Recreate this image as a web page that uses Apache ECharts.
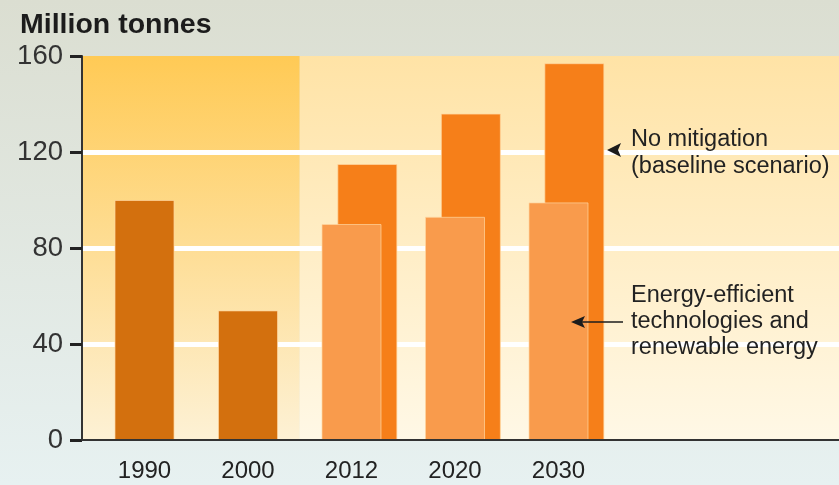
<!DOCTYPE html>
<html>
<head>
<meta charset="utf-8">
<script src="https://cdn.jsdelivr.net/npm/echarts@6/dist/echarts.min.js"></script>
<style>
  html, body { margin: 0; padding: 0; }
  #chart { width: 839px; height: 485px; }
</style>
</head>
<body>
<div id="chart"></div>
<script>
// Emissions, million tonnes
const years = ['1990', '2000', '2012', '2020', '2030'];
const historical = [100, 54, null, null, null];
const baseline = [null, null, 115, 136, 157];
const efficient = [null, null, 90, 93, 99];
const yTicks = [0, 40, 80, 120, 160];

const FONT = '"Liberation Sans", Arial, Helvetica, sans-serif';

// horizontal extent of the plot, in category units (category i sits at value i)
const XMIN = -0.604;
const XMAX = 6.71;
const BACK_SHIFT = 0.153;      // baseline bars sit a little to the right, behind
const SPLIT = 1.5;             // boundary between recorded years and projections

const pairs = arr => arr.map((v, i) => [i, v]);

function vGrad(top, bottom) {
  return {
    type: 'linear', x: 0, y: 0, x2: 0, y2: 1,
    colorStops: [{ offset: 0, color: top }, { offset: 1, color: bottom }]
  };
}

const chart = echarts.init(document.getElementById('chart'), null, { renderer: 'canvas' });

chart.setOption({
  animation: false,
  backgroundColor: vGrad('#DBDED1', '#E7F1F1'),
  textStyle: { fontFamily: FONT },
  title: {
    text: 'Million tonnes',
    left: 15, top: 6,
    textStyle: { fontFamily: FONT, fontSize: 28.5, fontWeight: 'bold', color: '#1c1c1c' }
  },
  grid: { left: 82, right: 0, top: 56, bottom: 45, containLabel: false },
  xAxis: [
    {
      type: 'value', min: XMIN, max: XMAX, z: 3,
      axisLine: { show: true, onZero: false, lineStyle: { color: '#333', width: 2 } },
      axisTick: { show: false },
      splitLine: { show: false },
      axisLabel: {
        customValues: years.map((_, i) => i),
        formatter: v => years[Math.round(v)],
        fontSize: 24, color: '#222', margin: 19, fontFamily: FONT
      }
    },
    {
      type: 'value', min: XMIN - BACK_SHIFT, max: XMAX - BACK_SHIFT, show: false
    }
  ],
  yAxis: {
    type: 'value', min: yTicks[0], max: yTicks[yTicks.length - 1], interval: 40, z: 1.5,
    axisLine: { show: true, onZero: false, lineStyle: { color: '#333', width: 2 } },
    axisTick: { show: true, length: 12, lineStyle: { color: '#222', width: 3 } },
    axisLabel: { fontSize: 27.5, color: '#333', margin: 19, fontFamily: FONT },
    splitLine: { show: true, showMinLine: false, showMaxLine: false, lineStyle: { color: '#ffffff', width: 5 } }
  },
  series: [
    {
      name: 'No mitigation (baseline scenario)',
      type: 'bar', xAxisIndex: 1, barWidth: 60,
      data: pairs(baseline),
      itemStyle: { color: '#F67F19', borderColor: 'rgba(255,214,160,0.7)', borderWidth: 1 }
    },
    {
      name: 'Recorded',
      type: 'bar', xAxisIndex: 0, barWidth: 60, barGap: '-100%',
      data: pairs(historical),
      itemStyle: { color: '#D3700E', borderColor: 'rgba(255,214,160,0.7)', borderWidth: 1 },
      markArea: {
        silent: true,
        z: 1,
        data: [
          [
            { xAxis: XMIN, yAxis: yTicks[yTicks.length - 1], itemStyle: { color: vGrad('#FFCA55', '#FDF1D5') } },
            { xAxis: SPLIT, yAxis: 0 }
          ],
          [
            { xAxis: SPLIT, yAxis: yTicks[yTicks.length - 1], itemStyle: { color: vGrad('#FFE3A6', '#FFF8E6') } },
            { xAxis: XMAX, yAxis: 0 }
          ]
        ]
      }
    },
    {
      name: 'Energy-efficient technologies and renewable energy',
      type: 'bar', xAxisIndex: 0, barWidth: 60, barGap: '-100%',
      data: pairs(efficient),
      itemStyle: { color: '#F99B4C', borderColor: 'rgba(255,214,160,0.7)', borderWidth: 1 }
    }
  ],
  graphic: [
    {
      type: 'polygon', z: 10,
      shape: { points: [[607, 150], [621, 143], [618, 150], [621, 157]] },
      style: { fill: '#1c1c1c' }
    },
    {
      type: 'text', left: 631, top: 126, z: 10,
      style: {
        text: 'No mitigation\n(baseline scenario)',
        font: '23.5px ' + FONT, fill: '#222', lineHeight: 27
      }
    },
    {
      type: 'line', z: 10,
      shape: { x1: 580, y1: 322, x2: 623, y2: 322 },
      style: { stroke: '#1c1c1c', lineWidth: 1.5 }
    },
    {
      type: 'polygon', z: 10,
      shape: { points: [[571, 322], [585, 316], [582, 322], [585, 328]] },
      style: { fill: '#1c1c1c' }
    },
    {
      type: 'text', left: 631, top: 283, z: 10,
      style: {
        text: 'Energy-efficient\ntechnologies and\nrenewable energy',
        font: '23.5px ' + FONT, fill: '#222', lineHeight: 26
      }
    }
  ]
});
</script>
</body>
</html>
